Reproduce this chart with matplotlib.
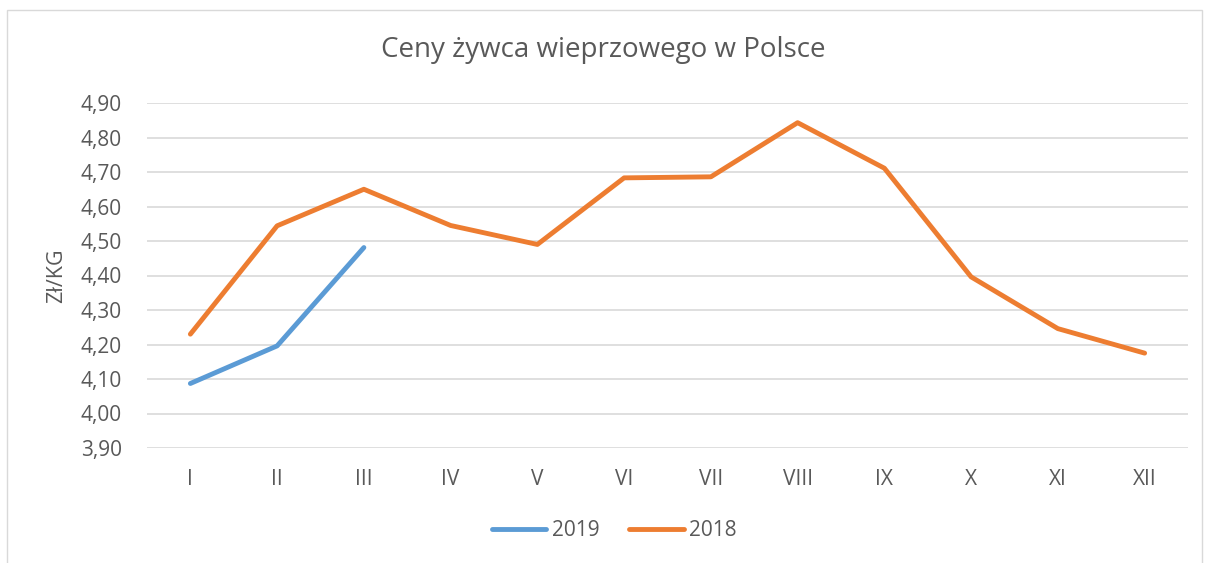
import matplotlib.pyplot as plt
from matplotlib.patches import Rectangle

# Data
months = ['I', 'II', 'III', 'IV', 'V', 'VI', 'VII', 'VIII', 'IX', 'X', 'XI', 'XII']
price_2019 = [4.087, 4.196, 4.481]
price_2018 = [4.23, 4.544, 4.65, 4.545, 4.49, 4.683, 4.686, 4.843, 4.711, 4.396, 4.246, 4.175]
y_ticks = [3.90, 4.00, 4.10, 4.20, 4.30, 4.40, 4.50, 4.60, 4.70, 4.80, 4.90]

text_col = '#595959'
plt.rcParams['font.family'] = ['Open Sans', 'DejaVu Sans']

fig = plt.figure(figsize=(12.07, 5.63), dpi=100)
ax = fig.add_axes([147 / 1207, 1 - 448 / 563, (1188 - 147) / 1207, (448 - 103) / 563])

# chart border
fig.patches.append(Rectangle((7 / 1207, -0.01), 1195 / 1207, 1 - 10 / 563 + 0.01,
                             transform=fig.transFigure, fill=False,
                             edgecolor='#D9D9D9', linewidth=1))

x = range(len(months))
ax.plot(range(len(price_2019)), price_2019, color='#5B9BD5', linewidth=3.5,
        solid_capstyle='round', solid_joinstyle='round', label='2019', zorder=3)
ax.plot(x, price_2018, color='#ED7D31', linewidth=3.5,
        solid_capstyle='round', solid_joinstyle='round', label='2018', zorder=3)

ax.set_xlim(-0.5, len(months) - 0.5)
ax.set_ylim(3.90, 4.90)
ax.set_yticks(y_ticks)
ax.set_yticklabels([('%.2f' % v).replace('.', ',') for v in y_ticks])
ax.set_xticks(list(x))
ax.set_xticklabels(months)
ax.tick_params(axis='both', length=0, labelsize=15, colors=text_col)
ax.tick_params(axis='y', pad=18)
ax.tick_params(axis='x', pad=15)
ax.grid(axis='y', color='#D9D9D9', linewidth=1.2)
for s in ax.spines.values():
    s.set_visible(False)

ax.set_ylabel('Zł/KG', fontsize=15.5, color=text_col, labelpad=10)
fig.text(0.5, 1 - 50 / 563, 'Ceny żywca wieprzowego w Polsce', ha='center', va='center',
         fontsize=20, color=text_col)

leg = fig.legend(loc='center', bbox_to_anchor=(0.509, 1 - 531 / 563), ncol=2, frameon=False,
                 fontsize=15, handlelength=2.6, handletextpad=0.25, columnspacing=1.45)
for t in leg.get_texts():
    t.set_color(text_col)

fig.savefig('out.png', dpi=100)
